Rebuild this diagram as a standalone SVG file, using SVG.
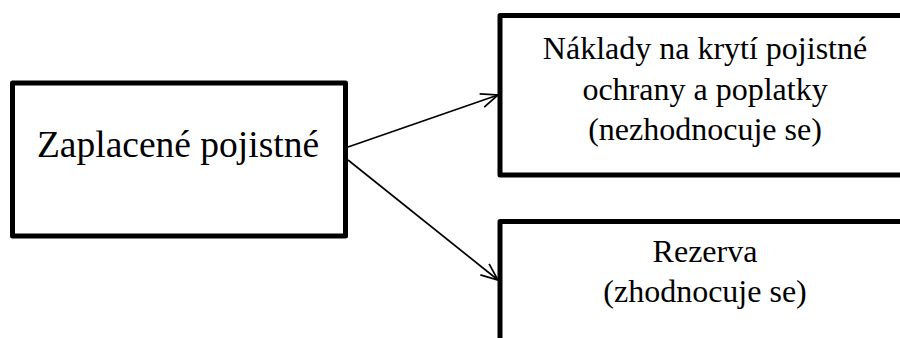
<svg xmlns="http://www.w3.org/2000/svg" width="900" height="338" viewBox="0 0 900 338">
<style>
.box{fill:#fff;stroke:#000;stroke-width:5;stroke-linejoin:round}
.t{font-family:"Liberation Serif","Times New Roman",serif;fill:#000;text-anchor:middle}
.c{stroke:#000;stroke-width:1.7;fill:none}
</style>
<defs>
<marker id="arr" viewBox="0 0 20 20" refX="18" refY="10" markerWidth="20" markerHeight="20" markerUnits="userSpaceOnUse" orient="auto">
<path d="M1,3 L18,10 L1,17" fill="none" stroke="#000" stroke-width="1.7"/>
</marker>
</defs>
<g id="n1">
<rect class="box" x="12.5" y="83" width="333" height="153"/>
<text class="t" x="178" y="157" font-size="37.5">Zaplacené pojistné</text>
</g>
<g id="n2">
<rect class="box" x="500" y="15.5" width="440" height="159.5"/>
<text class="t" x="705" y="59" font-size="32">Náklady na krytí pojistné</text>
<text class="t" x="705" y="100" font-size="32">ochrany a poplatky</text>
<text class="t" x="705" y="140" font-size="32">(nezhodnocuje se)</text>
</g>
<g id="n3">
<rect class="box" x="500" y="221.5" width="440" height="140"/>
<text class="t" x="705" y="262" font-size="32">Rezerva</text>
<text class="t" x="705" y="302" font-size="32">(zhodnocuje se)</text>
</g>
<g id="connectors">
<line class="c" x1="348" y1="147" x2="498" y2="95" marker-end="url(#arr)"/>
<line class="c" x1="348" y1="160" x2="498" y2="280" marker-end="url(#arr)"/>
</g>
</svg>
